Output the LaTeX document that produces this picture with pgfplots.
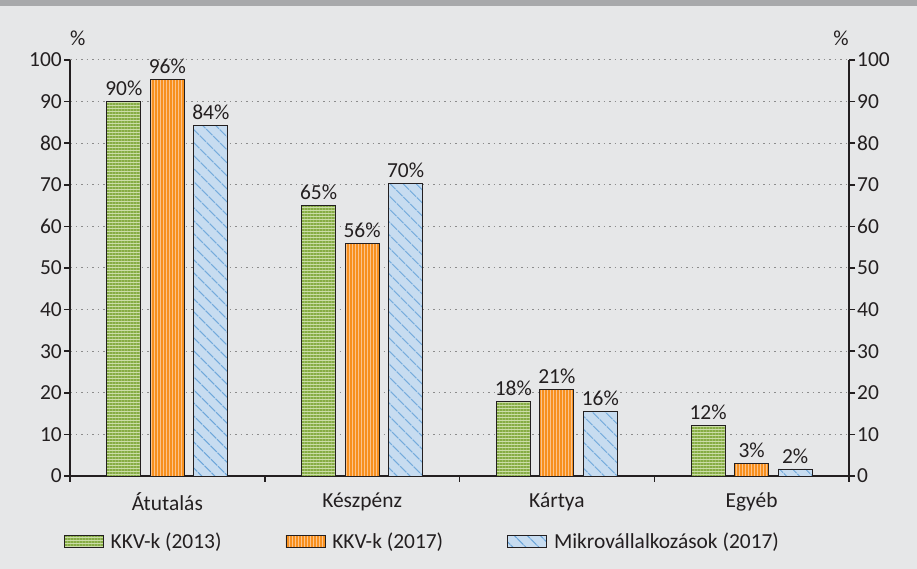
\documentclass[border=0pt]{standalone}
\usepackage{pgfplots}
\pgfplotsset{compat=1.18}
\usepackage{fontspec}
\setmainfont{Carlito}
\usetikzlibrary{patterns.meta}
\definecolor{bg}{HTML}{E6E7E8}
\definecolor{band}{HTML}{A8A9AB}
\definecolor{ink}{HTML}{231F20}
\definecolor{gfill}{HTML}{CBDDA7}
\definecolor{gline}{HTML}{86AC44}
\definecolor{ofill}{HTML}{FBC38C}
\definecolor{oline}{HTML}{F7901E}
\definecolor{bfill}{HTML}{C7DCF0}
\definecolor{bline}{HTML}{6CA6DA}
\definecolor{gridc}{HTML}{8C8C8C}
\newcommand{\ff}{\fontsize{21.5}{25}\selectfont}
\begin{document}
\begin{tikzpicture}[font=\ff, text=ink]
\fill[bg] (0,0) rectangle (917bp,569bp);
\fill[band] (0,563bp) rectangle (917bp,569bp);
\pgfplotsset{common/.style={
  scale only axis, width=779bp, height=416bp, at={(70bp,93bp)}, anchor=south west,
  xmin=-0.5, xmax=3.5, ymin=0, ymax=100,
  ytick={0,10,...,100},
  /pgf/number format/assume math mode=true,
  tick align=outside, major tick length=6bp,
  axis line style={line width=1.5bp, ink},
  tick style={line width=1.5bp, ink},
  tick label style={font=\ff, text=ink},
  yticklabel style={inner sep=2bp},
  clip=false,
}}
\begin{axis}[common,
  axis x line*=bottom, axis y line*=left,
  ymajorgrids, grid style={gridc, line width=1bp, dash pattern=on 1.5bp off 4bp},
  xtick={-0.5,0.5,1.5,2.5,3.5}, x tick label as interval,
  xticklabels={Átutalás, Készpénz, Kártya, Egyéb},
  xticklabel style={yshift=-7bp},
  ybar=9.5bp, bar width=34bp,
  nodes near coords, point meta=explicit symbolic,
  every node near coord/.append style={font=\ff, text=ink, yshift=2bp},
  legend columns=3,
  legend style={at={(-0.0120,-0.157)}, anchor=west, draw=none, fill=none,
    font=\ff, text=ink,
    /tikz/every odd column/.append style={column sep=5bp},
    /tikz/every even column/.append style={column sep=62bp}},
  legend image code/.code={\draw[#1] (0bp,-6bp) rectangle (39bp,6bp);},
]
\addplot[draw=ink, line width=0.8bp, preaction={fill=gfill},
  pattern={Lines[angle=0,distance=3bp,line width=1.5bp]}, pattern color=gline]
  coordinates {(0,90)[90\%] (1,65)[65\%] (2,17.9)[18\%] (3,12.2)[12\%]};
\addplot[draw=ink, line width=0.8bp, preaction={fill=ofill},
  pattern={Lines[angle=90,distance=3bp,line width=1.5bp]}, pattern color=oline]
  coordinates {(0,95.4)[96\%] (1,55.8)[56\%] (2,20.7)[21\%] (3,3)[3\%]};
\addplot[draw=ink, line width=0.8bp, preaction={fill=bfill},
  pattern={Lines[angle=-45,distance=10bp,line width=1.3bp]}, pattern color=bline]
  coordinates {(0,84.2)[84\%] (1,70.4)[70\%] (2,15.5)[16\%] (3,1.7)[2\%]};
\legend{KKV-k (2013), KKV-k (2017), Mikrovállalkozások (2017)}
\node[anchor=south west, inner sep=0pt] at (rel axis cs:0,1) [yshift=14bp] {\%};
\node[anchor=south east, inner sep=0pt] at (rel axis cs:1,1) [yshift=14bp] {\%};
\end{axis}
\begin{axis}[common, axis x line=none, axis y line*=right]
\end{axis}
\pgfresetboundingbox
\useasboundingbox (0,0) rectangle (917bp,569bp);
\end{tikzpicture}
\end{document}
